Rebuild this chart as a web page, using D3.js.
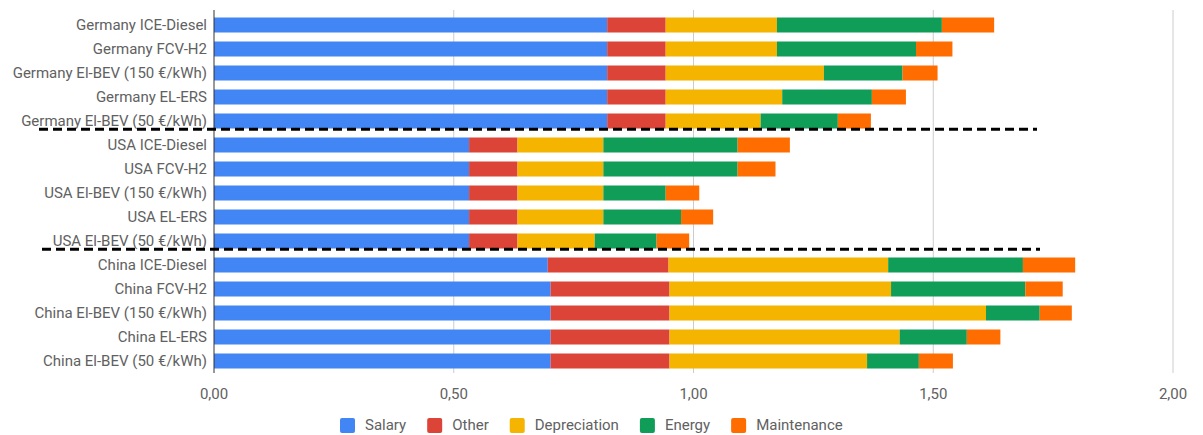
<!DOCTYPE html>
<html>
<head>
<meta charset="utf-8">
<script src="https://cdn.jsdelivr.net/npm/d3@7"></script>
<style>
  html, body { margin: 0; padding: 0; background: #fff; }
  svg { display: block; font-family: Roboto, "Noto Sans", sans-serif; }
</style>
</head>
<body>
<svg id="chart" width="1203" height="435"></svg>
<script>
const categories = [
  "Germany ICE-Diesel", "Germany FCV-H2", "Germany El-BEV (150 €/kWh)", "Germany EL-ERS", "Germany El-BEV (50 €/kWh)",
  "USA ICE-Diesel", "USA FCV-H2", "USA El-BEV (150 €/kWh)", "USA EL-ERS", "USA El-BEV (50 €/kWh)",
  "China ICE-Diesel", "China FCV-H2", "China El-BEV (150 €/kWh)", "China EL-ERS", "China El-BEV (50 €/kWh)"
];
const seriesNames = ["Salary", "Other", "Depreciation", "Energy", "Maintenance"];
const salary       = [0.820, 0.820, 0.820, 0.820, 0.820, 0.532, 0.532, 0.532, 0.532, 0.532, 0.696, 0.702, 0.702, 0.702, 0.702];
const other        = [0.122, 0.122, 0.122, 0.122, 0.122, 0.101, 0.101, 0.101, 0.101, 0.101, 0.252, 0.248, 0.248, 0.248, 0.248];
const depreciation = [0.232, 0.232, 0.330, 0.243, 0.198, 0.179, 0.179, 0.179, 0.179, 0.161, 0.458, 0.462, 0.660, 0.480, 0.412];
const energy       = [0.344, 0.290, 0.164, 0.187, 0.161, 0.280, 0.280, 0.130, 0.162, 0.129, 0.281, 0.280, 0.112, 0.140, 0.108];
const maintenance  = [0.109, 0.076, 0.073, 0.071, 0.069, 0.109, 0.079, 0.070, 0.067, 0.068, 0.109, 0.078, 0.067, 0.070, 0.071];
const xTicks = [0, 0.5, 1, 1.5, 2];
const separatorsAfter = ["Germany El-BEV (50 €/kWh)", "USA El-BEV (50 €/kWh)"];
const colors = ["#4285F4", "#DB4437", "#F4B400", "#0F9D58", "#FF6D00"];

const seriesValues = [salary, other, depreciation, energy, maintenance];
const rows = categories.map((c, i) => {
  const r = { category: c };
  seriesNames.forEach((s, j) => r[s] = seriesValues[j][i]);
  return r;
});

const svg = d3.select("#chart");
const x = d3.scaleLinear().domain([0, 2]).range([214, 1173]);
const y = d3.scaleBand().domain(categories).range([13, 373]).paddingInner(0.375).paddingOuter(0.1875);
const locale = d3.formatLocale({ decimal: ",", thousands: ".", grouping: [3], currency: ["", "€"] });
const fmt = locale.format(".2f");
const textColor = "#616161";

// gridlines
svg.append("g").selectAll("line").data(xTicks.filter(t => t > 0)).join("line")
  .attr("x1", d => x(d)).attr("x2", d => x(d))
  .attr("y1", 10).attr("y2", 373)
  .attr("stroke", "#cccccc").attr("stroke-width", 1);

// stacked bars
const stack = d3.stack().keys(seriesNames);
const stacked = stack(rows);
svg.append("g").selectAll("g").data(stacked).join("g")
  .attr("fill", (d, i) => colors[i])
  .selectAll("rect").data(d => d).join("rect")
  .attr("x", d => x(d[0]))
  .attr("width", d => x(d[1]) - x(d[0]))
  .attr("y", d => y(d.data.category))
  .attr("height", y.bandwidth());

// zero axis line
svg.append("line")
  .attr("x1", x(0)).attr("x2", x(0))
  .attr("y1", 10).attr("y2", 373)
  .attr("stroke", "#333333").attr("stroke-width", 1);

// category labels
svg.append("g").selectAll("text").data(categories).join("text")
  .attr("x", x(0) - 7)
  .attr("y", d => y(d) + y.bandwidth() / 2)
  .attr("dy", "0.35em")
  .attr("text-anchor", "end")
  .attr("font-size", 15)
  .attr("fill", textColor)
  .text(d => d);

// tick labels
svg.append("g").selectAll("text").data(xTicks).join("text")
  .attr("x", d => x(d))
  .attr("y", 399)
  .attr("text-anchor", "middle")
  .attr("font-size", 15)
  .attr("fill", textColor)
  .text(d => fmt(d));

// dashed separators
svg.append("g").selectAll("line").data(separatorsAfter).join("line")
  .attr("x1", (d, i) => 39 + i * 3).attr("x2", (d, i) => 1037 + i * 3)
  .attr("y1", d => y(d) + y.bandwidth() + 0.8)
  .attr("y2", d => y(d) + y.bandwidth() + 0.8)
  .attr("stroke", "#000").attr("stroke-width", 3)
  .attr("stroke-dasharray", "9,5");

// legend
const legend = svg.append("g");
let lx = 0;
seriesNames.forEach((s, i) => {
  const g = legend.append("g");
  g.append("rect").attr("x", 0).attr("y", -7).attr("width", 15).attr("height", 15)
    .attr("rx", 2).attr("fill", colors[i]);
  const t = g.append("text").attr("x", 25).attr("y", 0).attr("dy", "0.35em")
    .attr("font-size", 15).attr("fill", textColor).text(s);
  const w = t.node().getComputedTextLength();
  g.attr("transform", `translate(${lx},0)`);
  lx += 25 + w + 21;
});
legend.attr("transform", `translate(${340},425)`);
</script>
</body>
</html>
